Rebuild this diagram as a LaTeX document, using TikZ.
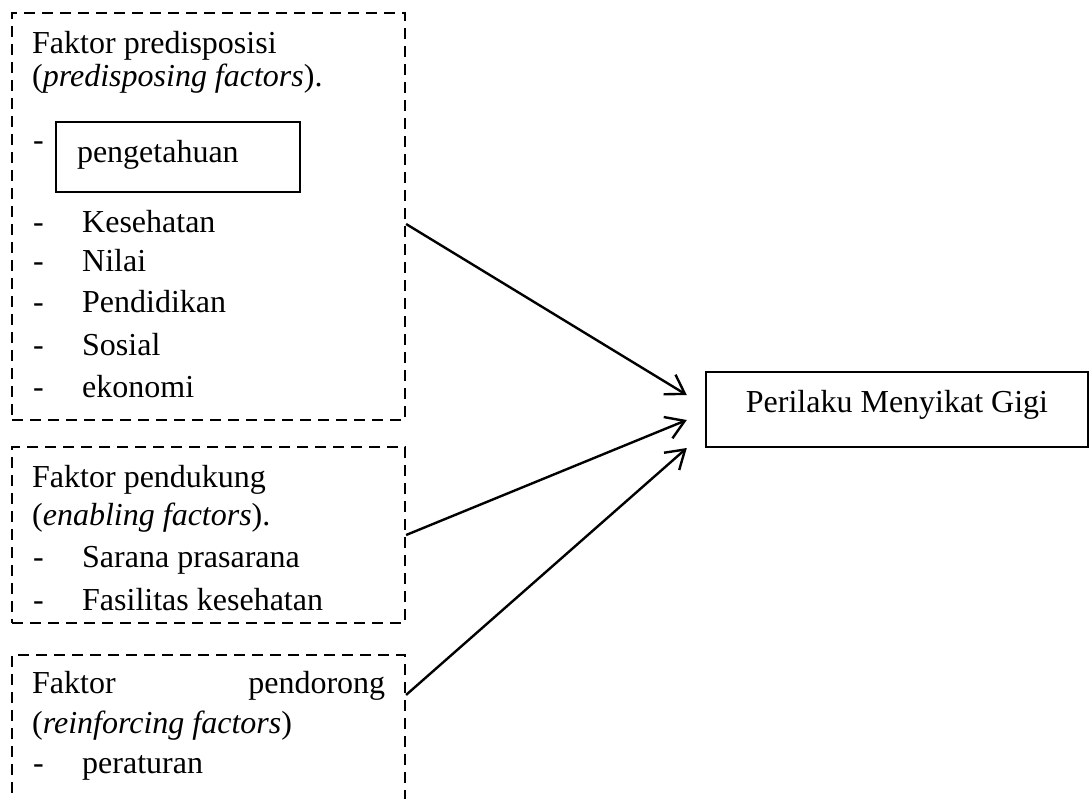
\documentclass[tikz,border=0pt]{standalone}
\usepackage{fontspec}
\setmainfont{Liberation Serif}
\usepackage{tikz}
\usetikzlibrary{positioning, calc, arrows.meta}
\newcommand\fsz{\fontsize{32}{38}\selectfont}

\begin{document}
\begin{tikzpicture}[x=1pt, y=-1pt,
        txt/.style={anchor=base west, inner sep=0pt, font=\fsz},
        dashbox/.style={draw, line width=2.2pt, dash pattern=on 11pt off 7pt, inner sep=0pt},
        knowbox/.style={draw, line width=1.3pt, inner xsep=21pt, inner ysep=0pt, text width=202pt, align=left,
            minimum height=70pt, text height=22pt, text depth=12pt, font=\fsz},
        goalbox/.style={draw, line width=2.4pt, minimum width=382pt, minimum height=75pt,
            text height=20pt, text depth=15pt, font=\fsz},
        arr/.style={-{Straight Barb[length=18pt, width=23pt]}, line width=2.4pt}]
    \clip (0,0) rectangle (1091,798);
    % kotak faktor
    \node[dashbox, minimum width=393pt, minimum height=407pt] (box1) at (208.5,216.5) {};
    \node[dashbox, minimum width=393pt, minimum height=176pt] (box2) at (208.5,535) {};
    \node[dashbox, minimum width=393pt, minimum height=185pt] (box3) at (208.5,747.5) {};

    % faktor predisposisi
    \node[txt] (pre1) at (32,53) {Faktor predisposisi};
    \node[txt] (pre2) at (32,86) {(\textit{predisposing factors}).};
    \node[txt] (predash0) at (33,150) {-};
    \node[knowbox] (know) at (178,157) {pengetahuan};
    \foreach \y/\w [count=\i] in {232/Kesehatan, 271/Nilai, 312/Pendidikan, 355/Sosial, 397/ekonomi} {
        \node[txt] (predash\i) at (33,\y) {-};
        \node[txt] (preitem\i) at (82,\y) {\w};
    }

    % faktor pendukung
    \node[txt] (en1) at (32,487) {Faktor pendukung};
    \node[txt] (en2) at (32,525) {(\textit{enabling factors}).};
    \foreach \y/\w [count=\i] in {567/Sarana prasarana, 610/Fasilitas kesehatan} {
        \node[txt] (endash\i) at (33,\y) {-};
        \node[txt] (enitem\i) at (82,\y) {\w};
    }

    % faktor pendorong
    \node[txt] (re1) at (32,693) {\makebox[353pt]{Faktor\hfill pendorong}};
    \node[txt] (re2) at (32,733) {(\textit{reinforcing factors})};
    \node[txt] (redash1) at (33,773) {-};
    \node[txt] (reitem1) at (82,773) {peraturan};

    % perilaku
    \node[goalbox] (goal) at (897,409.5) {Perilaku Menyikat Gigi};

    \coordinate (s1) at ($(box1.east)+(0,7.5)$);
    \coordinate (s3) at ($(box3.north east)+(0,41)$);
    \coordinate (e1) at ($(goal.west)+(-18,-14.5)$);
    \coordinate (e2) at ($(goal.west)+(-18,10.5)$);
    \coordinate (e3) at ($(goal.west)+(-18,38.5)$);
    \draw[arr] (s1) -- (e1);
    \draw[arr] (box2.east) -- (e2);
    \draw[arr] (s3) -- (e3);
\end{tikzpicture}
\end{document}
